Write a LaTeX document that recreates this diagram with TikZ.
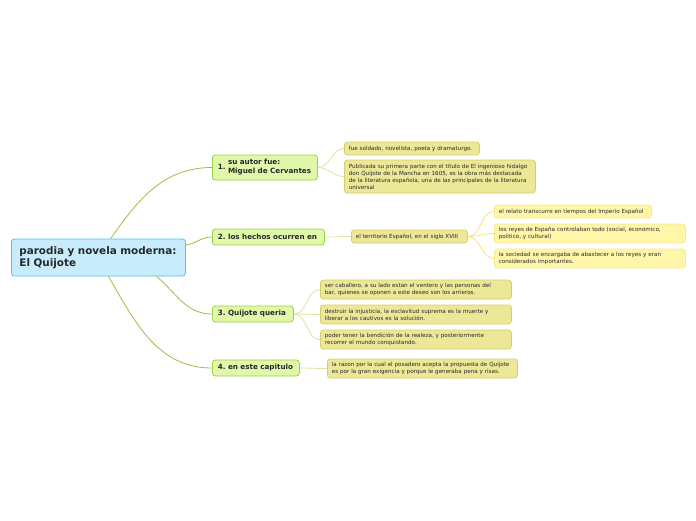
\documentclass[tikz,border=0pt]{standalone}
\usepackage{fontspec}
\setmainfont{DejaVu Sans}
\usetikzlibrary{positioning}
\frenchspacing

\definecolor{rootfill}{RGB}{200,236,252}
\definecolor{rootdraw}{RGB}{90,190,235}
\definecolor{topicfill}{RGB}{224,248,170}
\definecolor{topicdraw}{RGB}{160,208,70}
\definecolor{subfill}{RGB}{236,232,152}
\definecolor{subdraw}{RGB}{214,206,106}
\definecolor{leaffill}{RGB}{255,246,170}
\definecolor{leafdraw}{RGB}{248,232,140}
\definecolor{mainline}{RGB}{155,192,60}
\definecolor{subline}{RGB}{222,226,165}
\definecolor{leafline}{RGB}{250,226,110}
\definecolor{ink}{RGB}{40,40,40}

\begin{document}
\begin{tikzpicture}[
    x=1pt, y=-1pt,
    box/.style={rounded corners=3pt, anchor=west, align=left, text=ink, inner ysep=0pt, line width=0.8pt},
    root node/.style={box, fill=rootfill, draw=rootdraw, inner xsep=8pt, text width=#1, font=\fontsize{10.4}{12}\selectfont\bfseries},
    topic node/.style={box, fill=topicfill, draw=topicdraw, inner xsep=5.5pt, text width=#1, font=\fontsize{7.2}{9}\selectfont\bfseries},
    sub node/.style={box, fill=subfill, draw=subdraw, inner xsep=4.5pt, text width=#1, font=\fontsize{5.6}{7}\selectfont},
    leaf node/.style={box, fill=leaffill, draw=leafdraw, inner xsep=4.5pt, text width=#1, font=\fontsize{5.6}{7}\selectfont},
    main line/.style={draw=mainline, line width=0.8pt},
    sub line/.style={draw=subline, line width=0.8pt},
    leaf line/.style={draw=leafline, line width=0.8pt}
]
    \useasboundingbox (0,0) rectangle (696,520);

    % Root
    \node[root node=158pt, minimum height=37pt] (root) at (11,257.5)
        {parodia y novela moderna:\\El Quijote};

    % Main topics
    \node[topic node=94pt, minimum height=25pt] (autor) at (212,167.5)
        {1.\ \begin{tabular}[c]{@{}l@{}}su autor fue:\\Miguel de Cervantes\end{tabular}};
    \node[topic node=101pt, minimum height=16pt] (hechos) at (212,237) {2. los hechos ocurren en};
    \node[topic node=70pt, minimum height=16pt] (quijote) at (212,314) {3. Quijote queria};
    \node[topic node=76pt, minimum height=16pt] (capitulo) at (212,368) {4. en este capitulo};

    % Subtopics
    \node[sub node=126pt, minimum height=13pt] (soldado) at (344,148.5)
        {fue soldado, novelista, poeta y dramaturgo.};
    \node[sub node=182pt, minimum height=33pt] (publicada) at (344,176.5)
        {Publicada su primera parte con el título de El ingenioso hidalgo\\don Quijote de la Mancha en 1605, es la obra más destacada\\de la literatura española, una de las principales de la literatura\\universal};
    \node[sub node=107pt, minimum height=13pt] (territorio) at (351,236.5)
        {el territorio Español, en el siglo XVIII};
    \node[sub node=182pt, minimum height=19pt] (caballero) at (320,289.5)
        {ser caballero, a su lado estan el ventero y las personas del\\bar, quienes se oponen a este deseo son los arrieros.};
    \node[sub node=182pt, minimum height=19pt] (injusticia) at (320,314.5)
        {destruir la injusticia, la esclavitud suprema es la muerte y\\liberar a los cautivos es la solución.};
    \node[sub node=182pt, minimum height=19pt] (realeza) at (320,339.5)
        {poder tener la bendición de la realeza, y posteriormente\\recorrer el mundo conquistando.};
    \node[sub node=181pt, minimum height=19pt] (posadero) at (327,368.5)
        {la razon por la cual el posadero acepta la propuesta de Quijote\\es por la gran exigencia y porque le generaba pena y risas.};

    % Details of the setting
    \node[leaf node=148pt, minimum height=13pt] (relato) at (494,211.5)
        {el relato transcurre en tiempos del Imperio Español};
    \node[leaf node=182pt, minimum height=19pt] (reyes) at (494,233.5)
        {los reyes de España controlaban todo (social, economico,\\politico, y cultural)};
    \node[leaf node=182pt, minimum height=19pt] (sociedad) at (494,258.5)
        {la sociedad se encargaba de abastecer a los reyes y eran\\considerados importantes.};

    % Branches
    \draw[main line] (root.57) to[out=55, in=180] (autor.west);
    \draw[main line] (root.8) to[out=10, in=180] (hechos.west);
    \draw[main line] (root.-18) to[out=-40, in=180] (quijote.west);
    \draw[main line] (root.-62) to[out=-60, in=180] (capitulo.west);

    \draw[sub line] (autor.east) to[out=0, in=180] (soldado.west);
    \draw[sub line] (autor.east) to[out=0, in=180] (publicada.west);
    \draw[sub line] (hechos.east) to[out=0, in=180] (territorio.west);
    \draw[sub line] (quijote.east) to[out=0, in=180] (caballero.west);
    \draw[sub line] (quijote.east) to[out=0, in=180] (injusticia.west);
    \draw[sub line] (quijote.east) to[out=0, in=180] (realeza.west);
    \draw[sub line] (capitulo.east) to[out=0, in=180] (posadero.west);

    \draw[leaf line] (territorio.east) to[out=0, in=180] (relato.west);
    \draw[leaf line] (territorio.east) to[out=0, in=180] (reyes.west);
    \draw[leaf line] (territorio.east) to[out=0, in=180] (sociedad.west);

\end{tikzpicture}
\end{document}
